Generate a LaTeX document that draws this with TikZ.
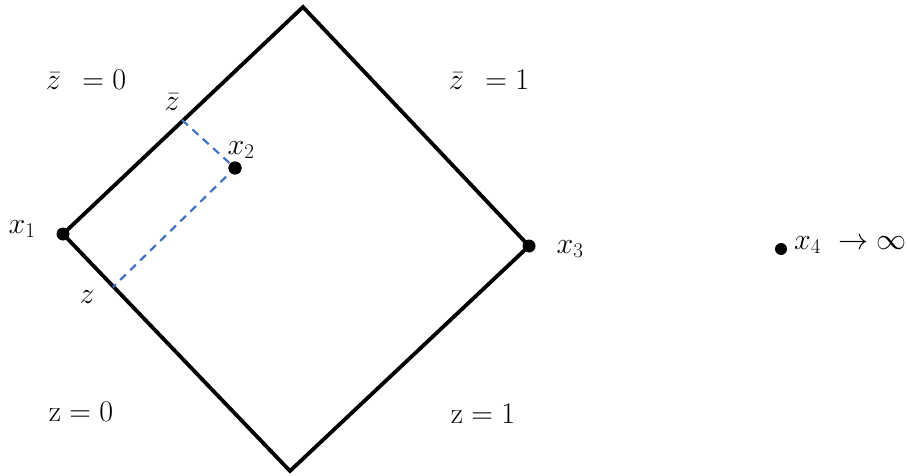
\RequirePackage{fix-cm}
\documentclass[tikz,border=0pt]{standalone}
\usepackage{amsmath}
\definecolor{dashblue}{RGB}{68,114,196}
\begin{document}
\begin{tikzpicture}[x=1pt,y=-1pt,
  edge/.style={line width=3.8pt,line join=miter},
  guide/.style={dashblue,line width=2.2pt,dash pattern=on 8pt off 6pt},
  dot/.style={circle,fill=black,inner sep=0pt,minimum size=13pt},
  lbl/.style={inner sep=0pt,font=\fontsize{30}{36}\selectfont}]
\useasboundingbox (0,0) rectangle (907,476);
\coordinate (T) at (303,7);
\coordinate (B) at (290,471);
\node[dot] (x1) at (63,234) {};
\node[dot] (x3) at (529,246) {};
\node[dot] (x2) at (235,168) {};
\node[dot,minimum size=12pt] (x4) at (781,249) {};
\draw[edge] (x1.center) -- (T) -- (x3.center) -- (B) -- cycle;
\coordinate (zb) at (182,120);
\coordinate (zz) at (113,287);
\draw[guide] (zb) -- (x2.center) -- (zz);
\node[dot] at (x2) {};
\node[lbl] (lx1) at (22,229) {$x_1$};
\node[lbl] (lx2) at (241,150) {$x_2$};
\node[lbl] (lx3) at (570,249) {$x_3$};
\node[lbl,anchor=west] (lx4) at (794,245) {$x_4\ \rightarrow \infty$};
\node[lbl] (lzb) at (172,102) {$\bar{z}$};
\node[lbl] (lz) at (87,297) {$z$};
\node[lbl] (l1) at (86,80) {$\bar{z}\;\, = 0$};
\node[lbl] (l2) at (489,80) {$\bar{z}\;\, = 1$};
\node[lbl] (l3) at (81,412) {$\mathrm{z} = 0$};
\node[lbl] (l4) at (483,414) {$\mathrm{z} = 1$};
\end{tikzpicture}
\end{document}
